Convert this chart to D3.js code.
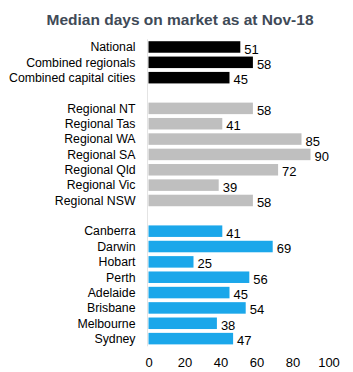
<!DOCTYPE html>
<html>
<head>
<meta charset="utf-8">
<script src="https://cdn.jsdelivr.net/npm/d3@7"></script>
<style>
  body { margin: 0; background: #fff; }
  text { font-family: "Liberation Sans", Arial, sans-serif; }
</style>
</head>
<body>
<svg width="353" height="372"></svg>
<script>
// rows top to bottom, "" = blank spacer row
const categories = [
    "National", "Combined regionals", "Combined capital cities", "",
    "Regional NT", "Regional Tas", "Regional WA", "Regional SA", "Regional Qld", "Regional Vic", "Regional NSW", " ",
    "Canberra", "Darwin", "Hobart", "Perth", "Adelaide", "Brisbane", "Melbourne", "Sydney"
];
const values = [51, 58, 45, null, 58, 41, 85, 90, 72, 39, 58, null, 41, 69, 25, 56, 45, 54, 38, 47];
const groups = ["total", "total", "total", null, "reg", "reg", "reg", "reg", "reg", "reg", "reg", null,
    "cap", "cap", "cap", "cap", "cap", "cap", "cap", "cap"];
const xTicks = [0, 20, 40, 60, 80, 100];

const data = categories.map((c, i) => ({ cat: c, value: values[i], group: groups[i] }));

const svg = d3.select("svg");

const x = d3.scaleLinear()
    .domain([0, 100])
    .range([148.5, 328.5]);

const y = d3.scaleBand()
    .domain(categories)
    .range([39.3, 346.3])
    .paddingInner(0.25)
    .paddingOuter(0.125);

const color = d3.scaleOrdinal()
    .domain(["total", "reg", "cap"])
    .range(["#000000", "#bfbfbf", "#1ba7ea"]);

svg.append("text")
    .attr("x", 180)
    .attr("y", 25)
    .attr("text-anchor", "middle")
    .attr("font-size", "15.5px")
    .attr("font-weight", "bold")
    .attr("fill", "#404a57")
    .text("Median days on market as at Nov-18");

// faint zero line
svg.append("line")
    .attr("x1", x(0) - 1).attr("x2", x(0) - 1)
    .attr("y1", y.range()[0]).attr("y2", y.range()[1])
    .attr("stroke", "#e4e4e4")
    .attr("stroke-width", 1);

const rows = data.filter(d => d.value !== null);

svg.selectAll(".bar")
    .data(rows)
    .enter()
    .append("rect")
    .attr("class", "bar")
    .attr("x", x(0))
    .attr("y", d => y(d.cat))
    .attr("width", d => x(d.value) - x(0))
    .attr("height", y.bandwidth())
    .attr("fill", d => color(d.group));

svg.selectAll(".cat-label")
    .data(rows)
    .enter()
    .append("text")
    .attr("class", "cat-label")
    .attr("x", 135.5)
    .attr("y", d => y(d.cat) + y.bandwidth() / 2)
    .attr("dy", "0.35em")
    .attr("text-anchor", "end")
    .attr("font-size", "12.3px")
    .attr("fill", "#000")
    .text(d => d.cat);

svg.selectAll(".val-label")
    .data(rows)
    .enter()
    .append("text")
    .attr("class", "val-label")
    .attr("x", d => x(d.value) + 4)
    .attr("y", d => y(d.cat) + y.bandwidth() / 2 + 2)
    .attr("dy", "0.35em")
    .attr("font-size", "13px")
    .attr("fill", "#000")
    .text(d => d.value);

const xAxis = svg.append("g")
    .attr("transform", "translate(0, 358)")
    .call(d3.axisBottom(x).tickValues(xTicks).tickSize(0).tickPadding(0));

xAxis.select(".domain").remove();
xAxis.selectAll("text")
    .attr("font-size", "13px")
    .attr("fill", "#000")
    .style("font-family", "'Liberation Sans', Arial, sans-serif");
</script>
</body>
</html>
